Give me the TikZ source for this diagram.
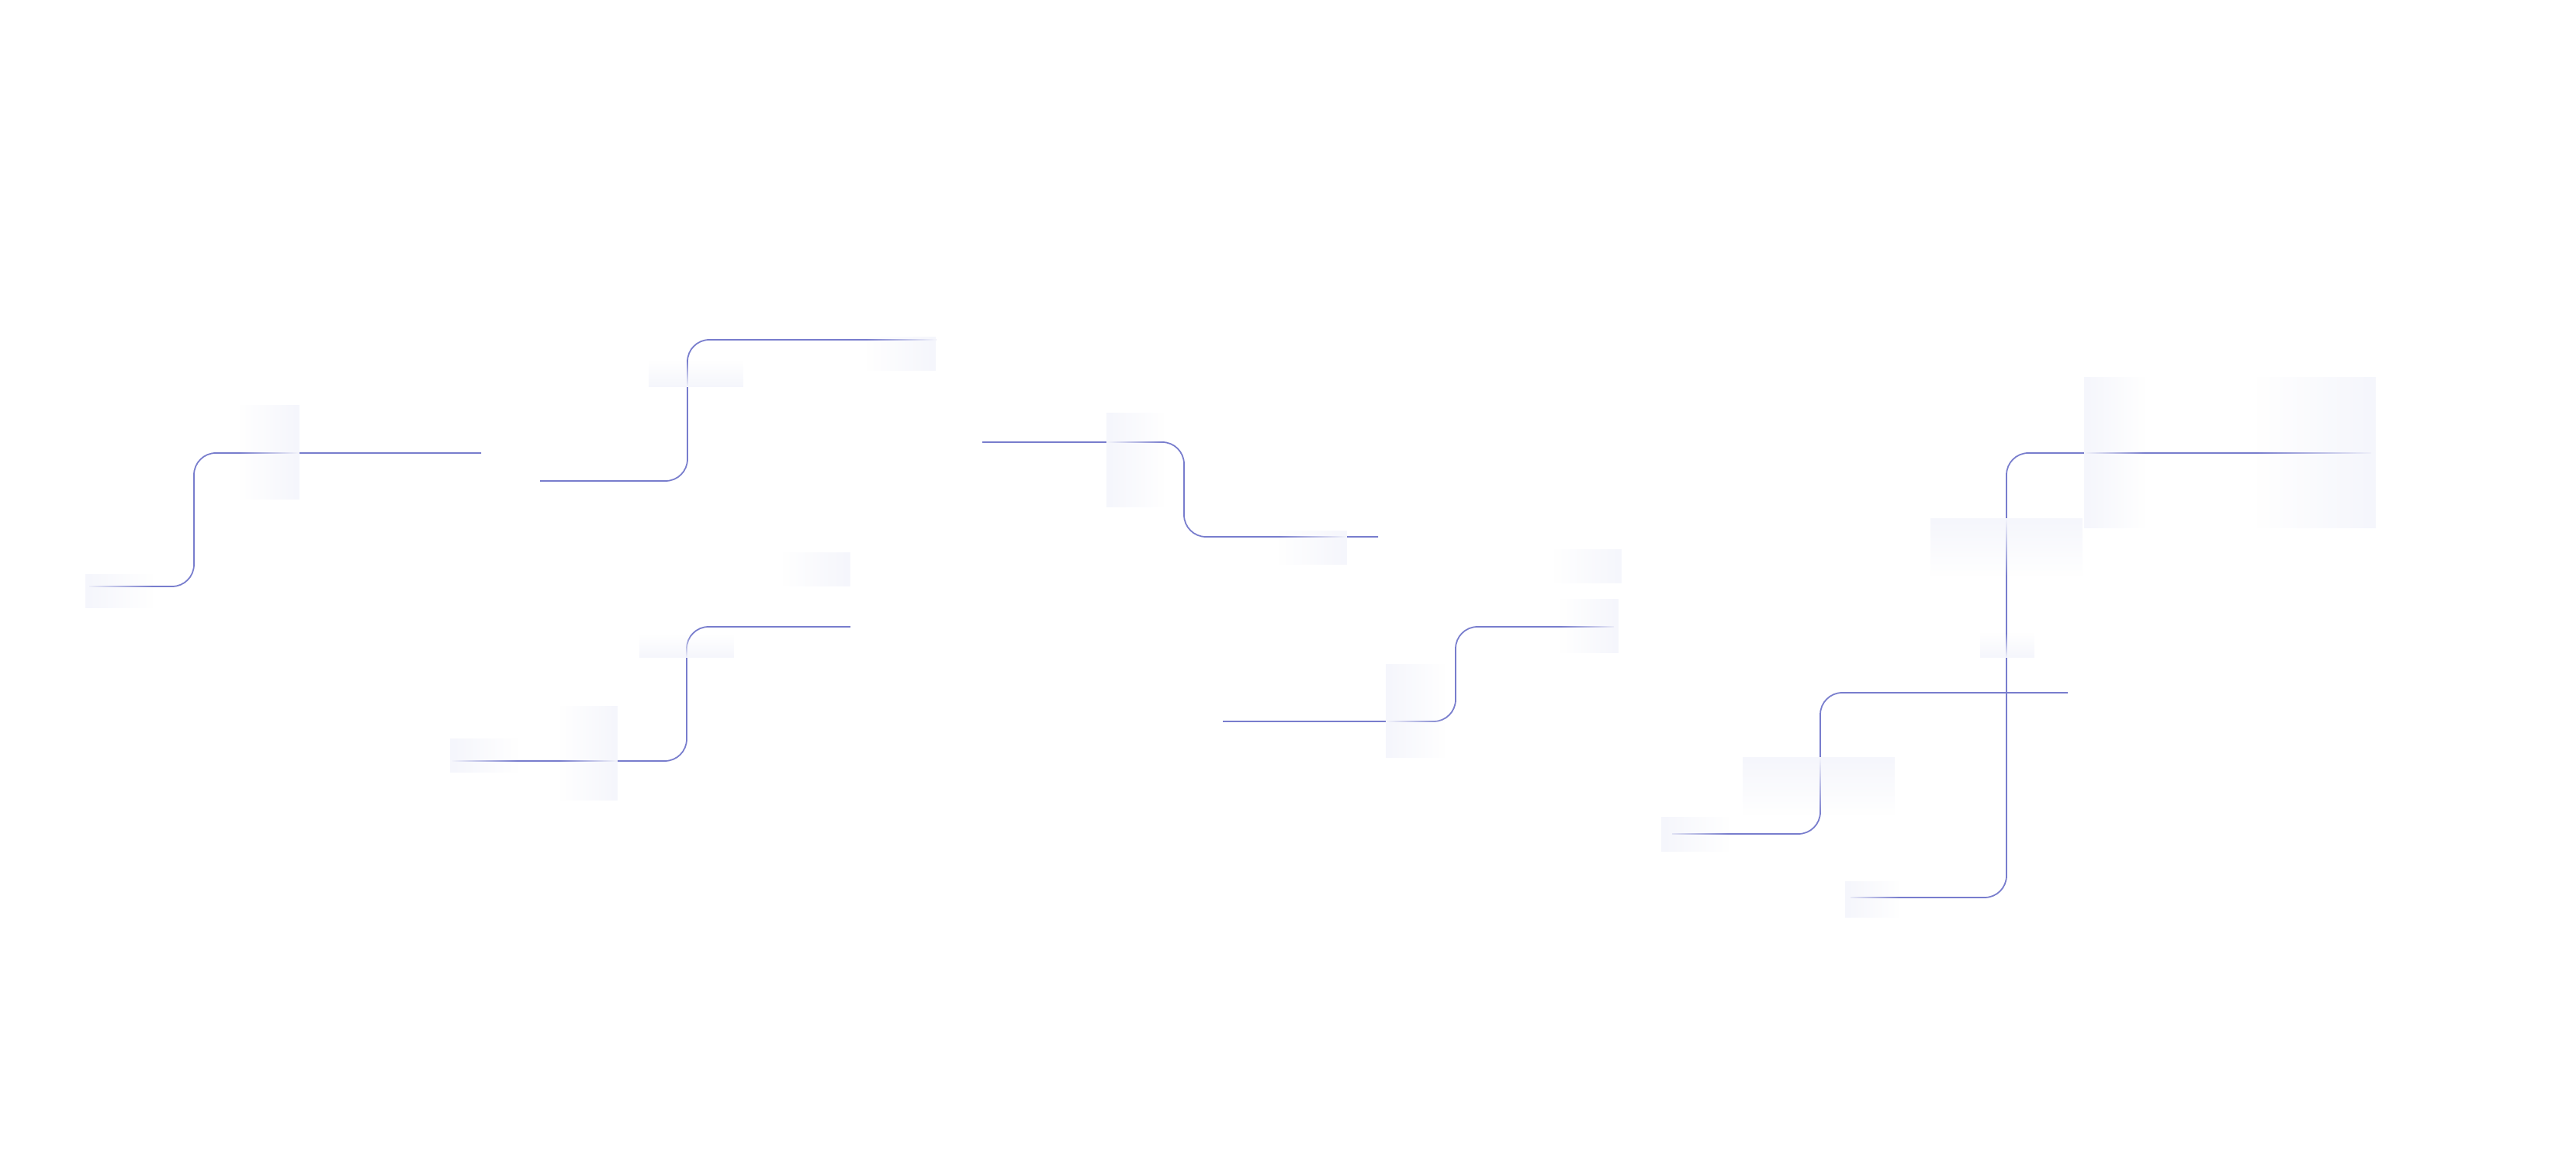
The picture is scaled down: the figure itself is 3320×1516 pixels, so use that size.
\documentclass[tikz,border=0pt]{standalone}
\usepackage{tikz}
\usetikzlibrary{fadings}

\definecolor{wireblue}{RGB}{120,125,205}
\definecolor{haze}{RGB}{245,246,252}

\tikzfading[name=haze east, left color=transparent!100, right color=transparent!0]
\tikzfading[name=haze west, left color=transparent!0, right color=transparent!100]
\tikzfading[name=haze south, top color=transparent!100, bottom color=transparent!0]
\tikzfading[name=haze north, top color=transparent!0, bottom color=transparent!100]

\begin{document}
\begin{tikzpicture}[
    x=0.01cm, y=-0.01cm,
    wire/.style={draw=wireblue, line width=0.5pt, rounded corners=8pt},
    glowright/.style={fill=haze, path fading=haze east},
    glowleft/.style={fill=haze, path fading=haze west},
    glowdown/.style={fill=haze, path fading=haze south},
    glowup/.style={fill=haze, path fading=haze north}
]
    \fill[white] (0,0) rectangle (3320,1516);
    \useasboundingbox (0,0) rectangle (3320,1516);

    % Wires
    \draw[wire] (115,756) -| (250,584) -- (620,584);
    \draw[wire] (696,620) -| (886,438) -- (1206,438);
    \draw[wire] (583,981) -| (885,808) -- (1096,808);
    \draw[wire] (1266,570) -| (1526,692) -- (1776,692);
    \draw[wire] (1576,930) -| (1876,808) -- (2080,808);
    \draw[wire] (2385,1157) -| (2586,584) -- (3056,584);
    \draw[wire] (2155,1075) -| (2346,893) -- (2665,893);

    % Haze panels
    \fill[glowright] (308,522) rectangle (386,644);
    \fill[glowleft] (110,740) rectangle (197,784);
    \fill[glowdown] (836,465) rectangle (958,499);
    \fill[glowright] (1116,434) rectangle (1206,478);
    \fill[glowdown] (824,818) rectangle (946,848);
    \fill[glowright] (1008,712) rectangle (1096,756);
    \fill[glowleft] (580,952) rectangle (667,996);
    \fill[glowright] (721,910) rectangle (796,1032);
    \fill[glowleft] (1426,532) rectangle (1500,654);
    \fill[glowright] (1648,684) rectangle (1736,728);
    \fill[glowleft] (1786,856) rectangle (1862,977);
    \fill[glowright] (2003,708) rectangle (2090,752);
    \fill[glowright] (2011,772) rectangle (2086,842);
    \fill[glowleft] (2686,486) rectangle (2764,681);
    \fill[glowright] (2908,486) rectangle (3062,681);
    \fill[glowup] (2488,668) rectangle (2684,743);
    \fill[glowdown] (2552,816) rectangle (2622,848);
    \fill[glowup] (2246,976) rectangle (2442,1050);
    \fill[glowleft] (2141,1053) rectangle (2228,1098);
    \fill[glowleft] (2378,1136) rectangle (2448,1183);
\end{tikzpicture}
\end{document}
